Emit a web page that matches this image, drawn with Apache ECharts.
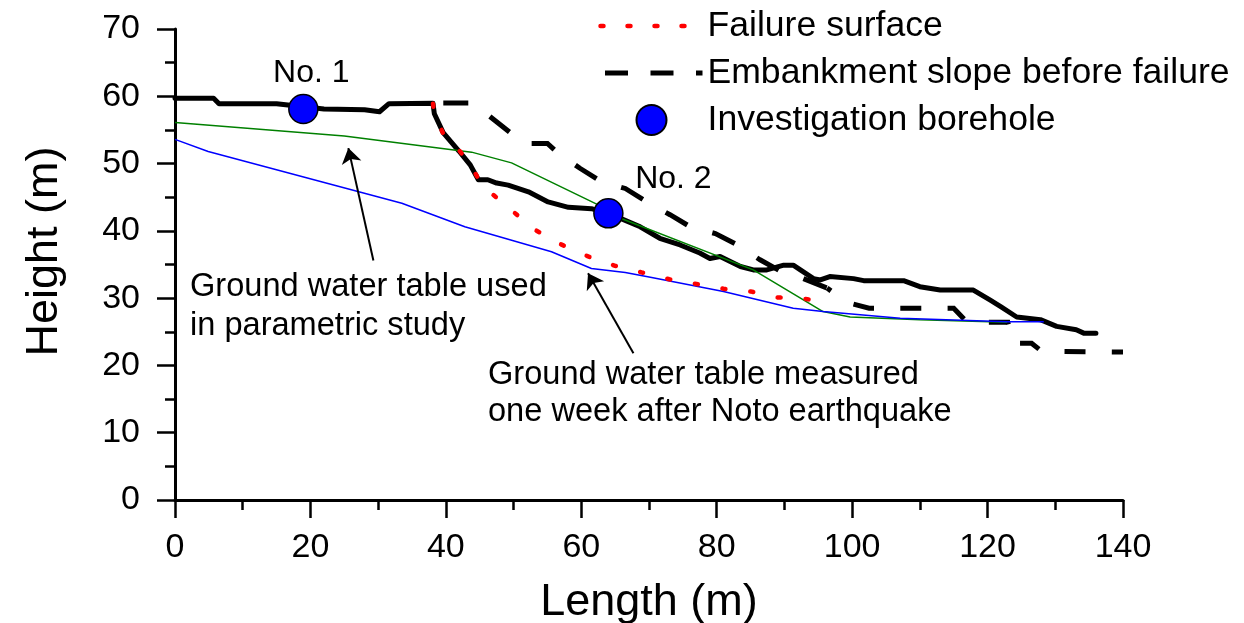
<!DOCTYPE html>
<html>
<head>
<meta charset="utf-8">
<script src="https://cdn.jsdelivr.net/npm/echarts@6.0.0/dist/echarts.min.js"></script>
<style>
  html, body { margin: 0; padding: 0; background: #ffffff; }
  #chart { width: 1244px; height: 623px; }
</style>
</head>
<body>
<div id="chart"></div>
<script>
// Embankment cross-section: ground surface after failure (solid), before failure (dashed)
const surfaceAfter = [
  [0, 59.7], [5.7, 59.7], [6.5, 58.9], [15, 58.9], [22, 58.1], [28, 58.0], [30.2, 57.7],
  [31.6, 58.9], [38.1, 58.95], [38.3, 57.4], [39.6, 54.6], [41.9, 51.9], [43.6, 49.8],
  [44.8, 47.6], [46.2, 47.6], [47.5, 47.1], [49.2, 46.8], [52.2, 45.8], [55.1, 44.3],
  [58.1, 43.5], [61.5, 43.3], [64.0, 42.6], [65.7, 41.9], [68.7, 40.6], [71.6, 38.9],
  [74.6, 37.9], [77.5, 36.7], [79.0, 35.9], [80.5, 36.2], [83.5, 34.7], [85.4, 34.2],
  [87.4, 34.2], [89.9, 34.9], [91.3, 34.9], [92.8, 33.9], [94.3, 32.9], [95.3, 32.7],
  [96.7, 33.2], [100.2, 32.9], [101.7, 32.6], [107.6, 32.6], [110.0, 31.7], [113.0, 31.2],
  [117.9, 31.2], [120.4, 29.7], [122.0, 28.7], [124.3, 27.2], [127.8, 26.8], [130.2, 25.8],
  [133.1, 25.3], [134.2, 24.8], [136.0, 24.8]
];
const slopeBefore = [
  [38.1, 59.0], [44.0, 59.0], [46.5, 57.0], [49.5, 54.6], [51.4, 53.0], [55.0, 53.0],
  [56.3, 51.8], [59.8, 49.3], [63.0, 47.3], [66.5, 46.3], [69.7, 44.3], [73.1, 42.4],
  [76.1, 40.6], [79.8, 39.6], [82.7, 38.1], [86.4, 35.7], [89.6, 33.9], [92.8, 32.9],
  [96.3, 31.5], [98.5, 29.9], [100.2, 29.1], [102.5, 28.5], [115.0, 28.5], [117.0, 26.4],
  [123.0, 26.4], [123.8, 23.3], [126.5, 23.3], [128.0, 22.1], [140.0, 22.0]
];
// the toe part (from x = 96.3 m on) is drawn with a slightly tighter dash rhythm
const slopeToeIndex = 18;
const failureSurface = [
  [38.1, 58.9], [38.3, 57.2], [39.6, 54.5], [42.1, 51.8], [43.6, 49.8], [45.5, 46.6],
  [49.1, 43.6], [52.9, 40.3], [57.0, 38.0], [61.0, 36.2], [65.0, 34.8], [69.0, 33.8],
  [73.0, 32.8], [77.0, 32.1], [81.0, 31.4], [85.0, 31.0], [89.0, 30.1], [93.0, 29.9],
  [97.0, 29.3]
];
// Ground water tables
const gwtParametric = [
  [0, 56.1], [25, 54.1], [43.8, 51.7], [49.7, 50.1], [62.2, 44.0], [65.7, 41.9],
  [85.4, 34.2], [95.7, 28.0], [99.7, 27.2], [110.0, 26.8], [122.9, 26.4]
];
const gwtMeasured = [
  [0, 53.6], [4.9, 51.8], [33.5, 44.1], [42.8, 40.6], [55.6, 36.9], [61.5, 34.4],
  [66.5, 33.8], [70.2, 33.1], [81.0, 31.0], [91.3, 28.5], [95.7, 28.0], [107.1, 27.0],
  [122.9, 26.5], [128.3, 26.5]
];
// Investigation boreholes
const boreholes = [[18.95, 58.1], [64.0, 42.6]];
const boreholeNames = ['No. 1', 'No. 2'];
const boreholeLabelOffsets = [[8, -36], [65, -34]];
// Annotation arrows: [tail, tip]
const arrowParametric = [[29.3, 35.6], [25.6, 52.3]];
const arrowMeasured = [[67.7, 21.8], [61.0, 33.7]];

const FONT = '"Liberation Sans", Arial, Helvetica, sans-serif';
const SLOPE_NAME = 'Embankment slope before failure';

const chart = echarts.init(document.getElementById('chart'), null, { renderer: 'canvas' });

const axisCommon = {
  type: 'value',
  axisLine: { show: true, lineStyle: { color: '#000', width: 3 } },
  axisTick: { show: true, inside: false, length: 18, lineStyle: { color: '#000', width: 2.5 } },
  minorTick: { show: true, splitNumber: 2, length: 10, lineStyle: { color: '#000', width: 2.5 } },
  splitLine: { show: false },
  minorSplitLine: { show: false },
  nameLocation: 'middle'
};

const arrowLine = (pair) => ({
  type: 'line',
  data: [],
  silent: true,
  z: 5,
  markLine: {
    silent: true,
    animation: false,
    symbol: ['none', 'arrow'],
    symbolSize: 15,
    label: { show: false },
    itemStyle: { color: '#000' },
    lineStyle: { color: '#000', width: 2, type: 'solid' },
    emphasis: { disabled: true },
    data: [[{ coord: pair[0] }, { coord: pair[1] }]]
  }
});

const option = {
  animation: false,
  backgroundColor: '#ffffff',
  textStyle: { fontFamily: FONT },
  grid: { left: 175, top: 29, width: 948, height: 471, containLabel: false, outerBoundsMode: 'none' },
  xAxis: Object.assign({}, axisCommon, {
    min: 0, max: 140, interval: 20,
    name: 'Length (m)', nameGap: 80,
    nameTextStyle: { fontFamily: FONT, fontSize: 45, color: '#000' },
    axisLabel: { fontFamily: FONT, fontSize: 34, color: '#000', margin: 31 }
  }),
  yAxis: Object.assign({}, axisCommon, {
    min: 0, max: 70, interval: 10,
    name: 'Height (m)', nameGap: 108, nameRotate: 90,
    nameTextStyle: { fontFamily: FONT, fontSize: 45, color: '#000', padding: [0, 0, 0, 26] },
    axisLabel: { fontFamily: FONT, fontSize: 34, color: '#000', margin: 35 }
  }),
  legend: {
    orient: 'vertical',
    left: 598,
    top: 8,
    padding: 0,
    itemWidth: 102,
    itemHeight: 30,
    itemGap: 11,
    selectedMode: false,
    textStyle: { fontFamily: FONT, fontSize: 35.6, color: '#000', lineHeight: 36 },
    data: [
      {
        name: 'Failure surface',
        itemStyle: { color: 'rgba(0,0,0,0)', borderWidth: 0, opacity: 0 },
        lineStyle: { color: '#ff0000', width: 4.5, type: [3, 24], cap: 'round' }
      },
      {
        name: SLOPE_NAME,
        itemStyle: { color: 'rgba(0,0,0,0)', borderWidth: 0, opacity: 0 },
        lineStyle: { color: '#000', width: 5, type: [23, 22.5], cap: 'butt' }
      },
      { name: 'Investigation borehole' }
    ]
  },
  series: [
    {
      name: SLOPE_NAME,
      type: 'line',
      data: slopeBefore.slice(0, slopeToeIndex + 1),
      symbol: 'none',
      z: 2,
      lineStyle: { color: '#000', width: 5, type: [25, 26.3], dashOffset: 41, cap: 'butt', join: 'miter' },
      itemStyle: { color: '#000' }
    },
    {
      name: SLOPE_NAME,
      type: 'line',
      data: slopeBefore.slice(slopeToeIndex),
      symbol: 'none',
      z: 2,
      lineStyle: { color: '#000', width: 5, type: [21, 26.3], dashOffset: 16.2, cap: 'butt', join: 'miter' },
      itemStyle: { color: '#000' }
    },
    {
      name: 'Ground surface after failure',
      type: 'line',
      data: surfaceAfter,
      symbol: 'none',
      z: 3,
      lineStyle: { color: '#000', width: 5, cap: 'round', join: 'round' },
      itemStyle: { color: '#000' }
    },
    {
      name: 'Ground water table used in parametric study',
      type: 'line',
      data: gwtParametric,
      symbol: 'none',
      z: 4,
      lineStyle: { color: '#008000', width: 1.5 },
      itemStyle: { color: '#008000' }
    },
    {
      name: 'Ground water table measured',
      type: 'line',
      data: gwtMeasured,
      symbol: 'none',
      z: 4,
      lineStyle: { color: '#0000ff', width: 1.5 },
      itemStyle: { color: '#0000ff' }
    },
    {
      name: 'Failure surface',
      type: 'line',
      data: failureSurface,
      symbol: 'none',
      z: 6,
      lineStyle: { color: '#ff0000', width: 4.5, type: [3, 25], cap: 'round' },
      itemStyle: { color: '#ff0000' }
    },
    arrowLine(arrowParametric),
    arrowLine(arrowMeasured),
    {
      name: 'Investigation borehole',
      type: 'scatter',
      z: 10,
      symbol: 'circle',
      symbolSize: 29,
      itemStyle: { color: '#0000ff', borderColor: '#000', borderWidth: 1.5, opacity: 1 },
      label: {
        show: true,
        position: 'inside',
        formatter: (p) => p.name,
        fontFamily: FONT,
        fontSize: 32,
        color: '#000'
      },
      data: boreholes.map((p, i) => ({
        name: boreholeNames[i],
        value: p,
        label: { offset: boreholeLabelOffsets[i] }
      }))
    }
  ],
  graphic: [
    {
      type: 'text',
      left: 190,
      top: 268,
      silent: true,
      style: {
        text: 'Ground water table used\nin parametric study',
        font: '32.6px ' + FONT,
        lineHeight: 39,
        fill: '#000'
      }
    },
    {
      type: 'text',
      left: 488,
      top: 357,
      silent: true,
      style: {
        text: 'Ground water table measured\none week after Noto earthquake',
        font: '32.6px ' + FONT,
        lineHeight: 37,
        fill: '#000'
      }
    }
  ]
};

chart.setOption(option);
</script>
</body>
</html>
